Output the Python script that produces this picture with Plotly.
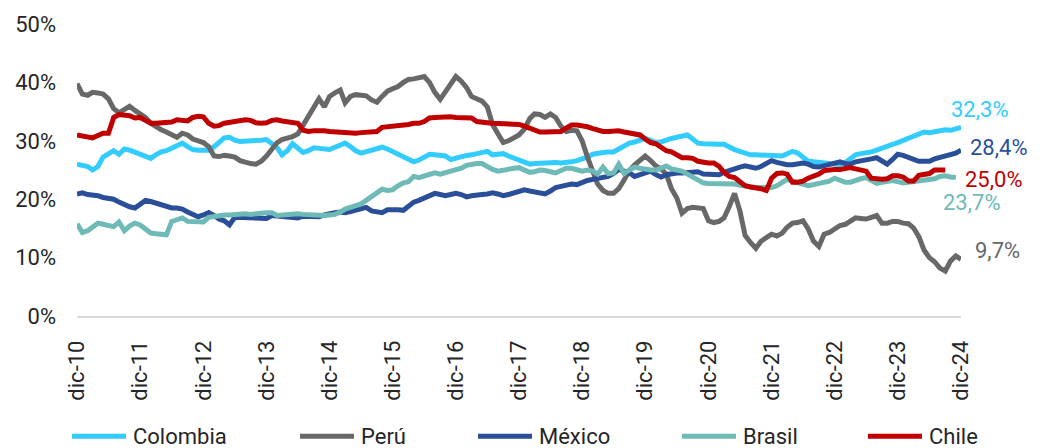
import pandas as pd
import plotly.graph_objects as go

# Monthly series, Dec-2010 .. Dec-2024 (169 months), in percent
months = pd.date_range("2010-12-01", "2024-12-01", freq="MS")

tick_dates = pd.date_range("2010-12-01", "2024-12-01", freq="12MS")
tick_labels = ["dic-10", "dic-11", "dic-12", "dic-13", "dic-14", "dic-15", "dic-16",
               "dic-17", "dic-18", "dic-19", "dic-20", "dic-21", "dic-22", "dic-23",
               "dic-24"]
y_ticks = [0, 10, 20, 30, 40, 50]
y_tick_labels = ["0%", "10%", "20%", "30%", "40%", "50%"]

colombia = [
    26.0, 25.8, 25.6, 25.0, 25.6, 27.2, 27.8, 28.3, 27.7, 28.6, 28.4, 28.0,
    27.6, 27.3, 27.0, 27.6, 28.1, 28.3, 28.7, 29.1, 29.6, 29.0, 28.5, 28.4,
    28.3, 28.4, 29.0, 29.8, 30.5, 30.6, 30.1, 29.9, 29.9, 29.9, 29.9, 30.1,
    30.2, 29.6, 28.8, 27.6, 28.3, 29.5, 28.7, 28.0, 28.3, 28.8, 28.7, 28.5,
    28.5, 28.9, 29.3, 29.6, 29.0, 28.3, 27.9, 28.2, 28.5, 28.7, 28.9, 28.6,
    28.2, 27.8, 27.3, 26.8, 26.4, 26.7, 27.3, 27.7, 27.6, 27.5, 27.4, 26.8,
    27.1, 27.3, 27.5, 27.6, 27.8, 28.0, 28.2, 27.6, 27.7, 27.8, 27.4, 27.0,
    26.6, 26.2, 26.0, 26.1, 26.2, 26.3, 26.4, 26.3, 26.2, 26.2, 26.4, 26.6,
    26.8, 27.2, 27.7, 27.9, 28.0, 28.1, 28.1, 28.6, 29.2, 29.6, 29.8, 30.1,
    30.4, 30.1, 29.7, 29.8, 30.2, 30.4, 30.6, 30.9, 31.0, 30.3, 29.6, 29.5,
    29.4, 29.3, 29.4, 29.4, 28.9, 28.5, 28.2, 27.8, 27.6, 27.6, 27.6, 27.6,
    27.5, 27.5, 27.4, 27.8, 28.2, 27.9, 27.2, 26.5, 26.4, 26.3, 26.3, 26.1,
    25.9, 25.9, 26.3, 27.0, 27.6, 27.8, 27.9, 28.1, 28.4, 28.8, 29.1, 29.4,
    29.7, 30.1, 30.4, 30.8, 31.3, 31.5, 31.4, 31.6, 31.8, 31.9, 31.8, 32.1,
    32.3,
]

peru = [
    39.8, 38.0, 37.8, 38.3, 38.2, 38.0, 37.2, 35.5, 34.8, 35.3, 35.9, 35.2,
    34.6, 34.0, 33.0, 32.4, 31.9, 31.5, 31.1, 30.6, 31.3, 31.0, 30.3, 29.9,
    29.7, 29.0, 27.4, 27.3, 27.5, 27.4, 27.2, 26.6, 26.3, 26.1, 26.0, 26.5,
    27.4, 28.6, 29.7, 30.2, 30.4, 30.7, 31.2, 32.6, 34.2, 35.8, 37.2, 35.8,
    37.6, 38.2, 38.7, 36.5, 37.6, 37.9, 37.8, 37.7, 37.0, 36.6, 37.6, 38.5,
    38.9, 39.3, 40.0, 40.5, 40.6, 40.7, 41.0, 40.0, 38.3, 37.1, 38.3, 39.8,
    41.0, 40.2, 39.1, 37.6, 37.1, 36.8, 35.8, 32.8, 31.2, 29.7, 30.0, 30.5,
    31.0, 32.0, 33.8, 34.6, 34.5, 34.0, 34.6, 34.0, 32.5, 31.6, 31.8, 31.7,
    30.0, 27.2, 24.8, 22.6, 21.5, 21.0, 21.0, 21.8, 23.3, 24.9, 25.9, 26.8,
    27.4, 26.6, 25.7, 25.2, 24.3, 21.8, 20.2, 17.6, 18.4, 18.6, 18.6, 18.4,
    16.3, 16.0, 16.2, 16.8, 18.8, 21.0, 18.0, 13.8, 12.6, 11.6, 12.8, 13.5,
    14.0, 13.7, 14.2, 15.2, 15.9, 16.0, 16.3, 14.9, 12.8, 11.9, 14.0, 14.3,
    14.8, 15.5, 15.7, 16.2, 16.8, 16.7, 16.6, 16.9, 17.2, 15.9, 15.9, 16.2,
    16.2, 15.9, 15.8, 15.1, 13.6, 11.3, 10.0, 9.3, 8.2, 7.7, 9.4, 10.3,
    9.7,
]

mexico = [
    20.9, 21.1, 20.8, 20.8, 20.6, 20.3, 20.2, 20.0, 19.5, 19.0, 18.7, 18.5,
    19.2, 19.8, 19.6, 19.3, 19.0, 18.7, 18.5, 18.5, 18.3, 17.8, 17.3, 17.0,
    17.3, 17.7, 17.2, 16.6, 16.3, 15.6, 16.9, 16.9, 16.8, 16.8, 16.9, 16.7,
    16.7, 17.2, 17.1, 17.0, 16.9, 16.8, 16.8, 17.1, 17.1, 17.0, 17.0, 17.3,
    17.6, 17.7, 17.8, 17.7, 17.9, 18.2, 18.4, 18.6, 18.0, 17.8, 17.7, 18.2,
    18.3, 18.2, 18.1, 18.8, 19.5, 19.8, 20.2, 20.7, 21.0, 20.8, 20.6, 20.8,
    21.0, 20.8, 20.4, 20.6, 20.8, 20.8, 20.9, 21.1, 20.9, 20.6, 20.8, 21.1,
    21.4, 21.6, 21.4, 21.2, 21.0, 20.9, 21.4, 22.0, 22.2, 22.5, 22.6, 22.5,
    22.9, 23.2, 23.4, 23.6, 23.7, 23.9, 24.4, 25.1, 24.8, 24.5, 23.9, 24.2,
    24.7, 24.8, 24.2, 23.8, 24.2, 24.4, 24.5, 24.5, 24.6, 24.8, 24.7, 24.3,
    24.2, 24.2, 24.2, 24.6, 24.9, 25.4, 25.5, 25.7, 25.5, 25.3, 25.6, 26.1,
    26.6, 26.3, 26.0, 25.9, 25.9, 26.0, 26.2, 26.0, 25.6, 25.5, 25.7, 26.0,
    26.3, 26.4, 26.1, 26.0, 26.4, 26.5, 26.7, 26.9, 27.1, 26.6, 26.0, 26.8,
    27.7, 27.5, 27.1, 26.8, 26.5, 26.5, 26.5, 26.9, 27.1, 27.3, 27.5, 27.9,
    28.4,
]

brasil = [
    15.8, 14.3, 14.6, 15.2, 15.9, 15.7, 15.4, 15.3, 16.1, 14.6, 15.4, 15.9,
    15.6, 15.0, 14.2, 14.1, 14.0, 13.9, 16.2, 16.4, 16.8, 16.2, 16.1, 16.1,
    16.1, 16.9, 17.1, 17.2, 17.3, 17.3, 17.4, 17.5, 17.5, 17.4, 17.4, 17.6,
    17.7, 17.7, 17.2, 17.3, 17.4, 17.4, 17.5, 17.4, 17.3, 17.4, 17.3, 17.2,
    17.3, 17.4, 17.8, 18.3, 18.6, 18.8, 19.2, 19.8, 20.4, 21.0, 21.7, 21.5,
    21.6, 22.3, 22.8, 23.0, 23.9, 23.7, 23.9, 24.3, 24.5, 24.3, 24.5, 24.8,
    25.0, 25.3, 25.8, 26.0, 26.1, 26.1, 25.5, 25.1, 24.8, 25.0, 25.3, 25.3,
    25.4, 25.0, 24.6, 24.7, 25.0, 24.9, 24.7, 24.5, 24.9, 25.3, 25.3, 25.0,
    24.8, 25.0, 24.8, 24.3, 25.5, 24.4, 24.5, 26.0, 24.4, 25.0, 25.5, 25.3,
    25.1, 25.0, 25.0, 25.3, 25.7, 25.2, 25.0, 24.8, 24.3, 23.8, 23.2, 22.8,
    22.7, 22.7, 22.8, 22.8, 22.8, 22.6, 22.4, 22.2, 22.1, 22.0, 22.0, 21.9,
    22.0, 22.3, 22.9, 23.4, 23.1, 22.8, 22.5, 22.3, 22.5, 22.7, 22.9, 23.1,
    23.6, 23.3, 22.9, 22.9, 23.3, 23.5, 23.7, 23.3, 22.7, 22.9, 23.1, 23.2,
    23.0, 22.8, 22.9, 23.0, 23.1, 23.1, 23.2, 23.5, 23.9, 24.0, 23.8, 23.7,
    None,
]

chile = [
    31.0, 30.8, 30.6, 30.5, 30.9, 31.3, 31.3, 34.0, 34.5, 34.4, 34.3, 33.9,
    34.0, 33.5, 33.0, 33.0, 33.1, 33.1, 33.2, 33.6, 33.5, 33.4, 34.0, 34.2,
    34.1, 33.0, 32.5, 32.6, 33.0, 33.2, 33.3, 33.4, 33.6, 33.5, 33.1, 33.0,
    33.1, 33.5, 33.6, 33.4, 33.2, 33.0, 33.0, 31.8, 31.6, 31.7, 31.8, 31.7,
    31.6, 31.5, 31.5, 31.4, 31.3, 31.3, 31.4, 31.4, 31.4, 31.6, 32.3, 32.4,
    32.5, 32.5, 32.5, 32.8, 33.0, 33.0, 33.3, 33.9, 34.0, 34.1, 34.2, 34.1,
    34.0, 34.0, 34.0, 33.9, 33.3, 33.1, 33.1, 33.0, 33.0, 33.0, 33.0, 33.0,
    32.8, 32.5, 32.2, 31.8, 31.5, 31.5, 31.5, 31.5, 31.6, 32.2, 32.7, 32.7,
    32.6, 32.4, 32.1, 31.8, 31.6, 31.6, 31.7, 31.7, 31.5, 31.4, 31.2, 31.0,
    30.3, 29.7, 29.5, 29.0, 28.3, 28.1, 27.5, 27.1, 27.1, 27.0, 26.5, 26.3,
    26.2, 26.2, 25.6, 24.6, 23.9, 23.7, 23.0, 22.3, 22.1, 22.0, 21.8, 21.5,
    23.6, 24.4, 24.5, 24.3, 22.9, 22.9, 23.1, 23.6, 23.9, 24.3, 24.9, 25.1,
    25.1, 25.1, 25.3, 25.4, 25.2, 25.1, 24.8, 23.6, 23.4, 23.4, 23.5, 24.0,
    24.0, 23.8, 23.1, 23.1, 24.1, 24.3, 24.4, 25.0, 25.1, 25.0, None, None,
    None,
]

series_names = ["Colombia", "Perú", "México", "Brasil", "Chile"]
series_values = [colombia, peru, mexico, brasil, chile]
for vals in series_values:
    assert len(vals) == len(months)

# ---- styling -------------------------------------------------------------
colors = {
    "Colombia": "#33CCFF",
    "Perú": "#686868",
    "México": "#2A4F98",
    "Brasil": "#6DBAB7",
    "Chile": "#C00000",
}
# end-label offsets in pixels (x, y) relative to each series' last point
label_shift = {
    "Colombia": (-12, 18),
    "México": (7, 3),
    "Chile": (18, -9),
    "Brasil": (-15, -25),
    "Perú": (12, 9),
}
FONT = "Roboto, 'Open Sans', Arial, sans-serif"
TEXT = "#262626"

W, H = 1045, 448
M_L, M_R, M_T, M_B = 77, 84, 22, 132
plot_w = W - M_L - M_R
plot_h = H - M_T - M_B


def px_to_paper(x_px, y_px):
    return (x_px - M_L) / plot_w, (H - M_B - y_px) / plot_h


fig = go.Figure()
for name, vals in zip(series_names, series_values):
    fig.add_trace(go.Scatter(
        x=months, y=vals, mode="lines", name=name,
        line=dict(color=colors[name], width=5),
        showlegend=False, hoverinfo="skip",
    ))

# value labels at the end of each line
for name, vals in zip(series_names, series_values):
    last_i = max(i for i, v in enumerate(vals) if v is not None)
    v = vals[last_i]
    dx, dy = label_shift[name]
    fig.add_annotation(
        x=months[last_i], y=v, xref="x", yref="y",
        text=f"{v:.1f}%".replace(".", ","),
        showarrow=False, xanchor="left", yanchor="middle",
        xshift=dx, yshift=dy,
        font=dict(family=FONT, size=22, color=colors[name]),
    )

# legend row below the axis
legend_items = [("Colombia", 72), ("Perú", 300), ("México", 478),
                ("Brasil", 682), ("Chile", 868)]
LEG_Y = 437
for name, x0 in legend_items:
    xa, ya = px_to_paper(x0, LEG_Y)
    xb, _ = px_to_paper(x0 + 54, LEG_Y)
    fig.add_shape(type="line", xref="paper", yref="paper",
                  x0=xa, x1=xb, y0=ya, y1=ya,
                  line=dict(color=colors[name], width=5))
    xt, _ = px_to_paper(x0 + 59, LEG_Y)
    fig.add_annotation(x=xt, y=ya, xref="paper", yref="paper",
                       text=name, showarrow=False,
                       xanchor="left", yanchor="middle",
                       font=dict(family=FONT, size=22, color=TEXT))

fig.update_layout(
    width=W, height=H,
    margin=dict(l=M_L, r=M_R, t=M_T, b=M_B, pad=0),
    paper_bgcolor="white", plot_bgcolor="white",
    font=dict(family=FONT, size=22, color=TEXT),
    showlegend=False,
)
fig.update_xaxes(
    range=[months[0], months[-1]],
    tickmode="array", tickvals=tick_dates, ticktext=tick_labels,
    tickangle=-90, ticks="", showgrid=False, zeroline=False,
    showline=True, linecolor="#D9D9D9", linewidth=1.5,
    ticklabelstandoff=14,
    tickfont=dict(family=FONT, size=22, color=TEXT),
)
fig.update_yaxes(
    range=[0, 50], tickmode="array", tickvals=y_ticks, ticktext=y_tick_labels,
    showgrid=False, zeroline=False, showline=False,
    ticks="", ticklabelstandoff=20,
    tickfont=dict(family=FONT, size=22, color=TEXT),
)

fig.write_html("out.html")
